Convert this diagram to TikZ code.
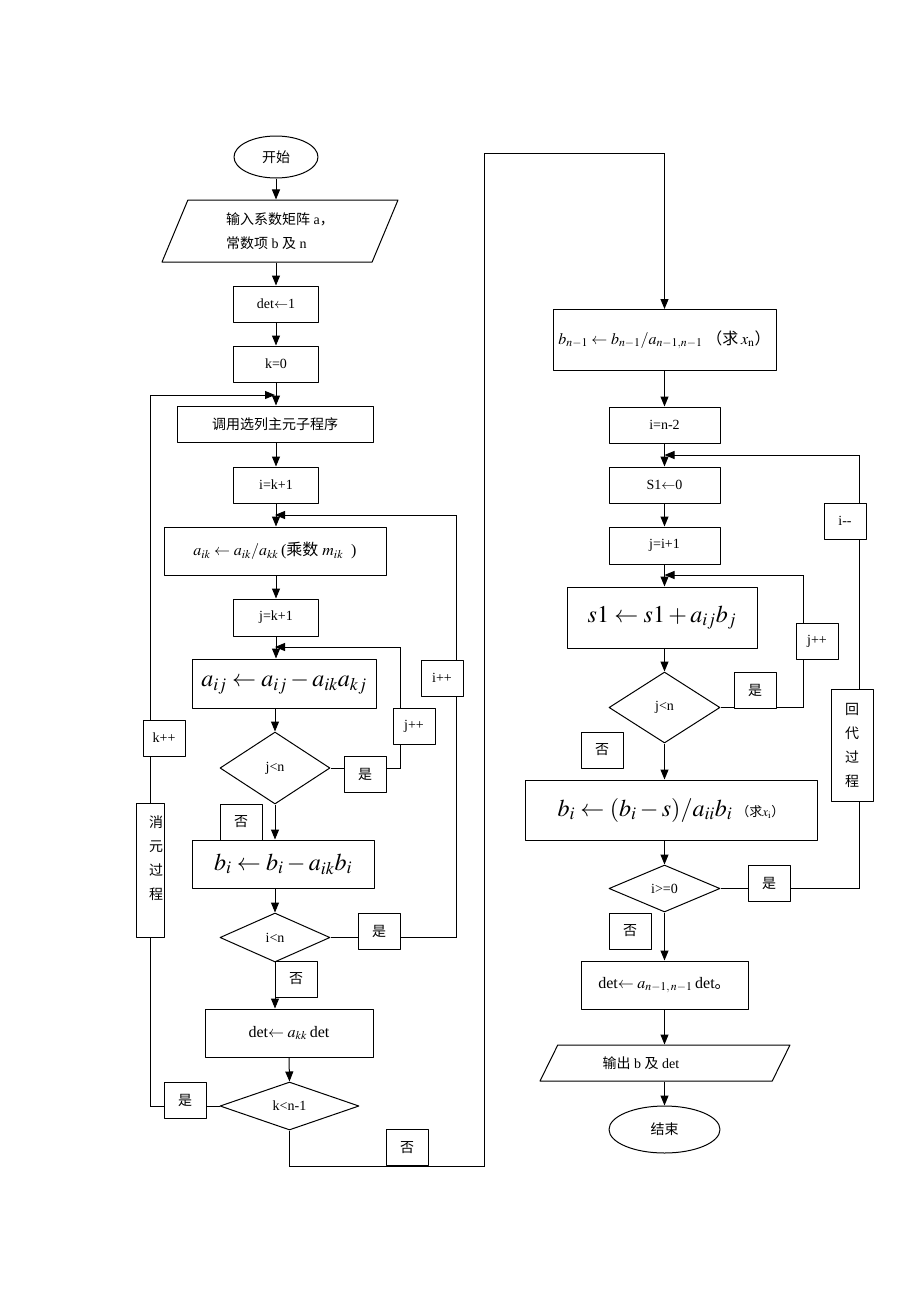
\documentclass[tikz,border=0pt]{standalone}
\usepackage{mathptmx}
\usepackage{fontspec}
\setmainfont{Liberation Serif}
\newfontfamily\cjk{Noto Sans CJK SC}
\usetikzlibrary{shapes.geometric,arrows.meta,backgrounds}
\newcommand\zh[1]{{\cjk #1}}
\newcommand\basefont{\fontsize{14}{18}\selectfont}
\newcommand\eqfont{\fontsize{24}{28}\selectfont}
\newcommand\midfont{\fontsize{16}{19}\selectfont}
\tikzset{
  box/.style={draw, fill=white, rectangle, inner sep=2pt, minimum height=36},
  tag/.style={draw, fill=white, minimum width=42, minimum height=36, inner sep=0pt, font=\basefont\cjk},
  vtag/.style={draw, fill=white, inner sep=0pt, align=center, font=\cjk\fontsize{14}{24}\selectfont},
  cond/.style={draw, fill=white, diamond, aspect=2.5, inner sep=0pt},
  io/.style={draw, fill=white, trapezium, trapezium stretches body, inner sep=0pt},
  term/.style={draw, fill=white, ellipse, inner sep=0pt},
  flow/.style={line width=1pt, -{Triangle[length=10pt,width=8pt]}},
}
\begin{document}
\begin{tikzpicture}[x=1pt, y=-1pt, line width=1pt, font=\basefont, line join=round]
\useasboundingbox (0,0) rectangle (920,1302);
% elimination part
\node[term, minimum width=84, minimum height=42] (start) at (276,157) {\zh{开始}};
\node[io, trapezium left angle=55, trapezium right angle=125, minimum width=236, minimum height=62, align=left, font=\fontsize{14}{24}\selectfont] (input) at (280,231)
  {\zh{输入系数矩阵} a\zh{，}\\ \zh{常数项} b \zh{及} n};
\node[box, minimum width=85] (detone) at (276,304) {det$\leftarrow$1};
\node[box, minimum width=85] (kzero) at (276,364) {k=0};
\node[box, minimum width=196] (pivot) at (275,424) {\zh{调用选列主元子程序}};
\node[box, minimum width=85] (iinit) at (276,485) {i=k+1};
\node[box, minimum width=222, minimum height=48, font=\midfont] (mult) at (275,551)
  {$a_{ik} \leftarrow a_{ik}/a_{kk}$\,(\zh{乘数} $m_{ik}$\ \ )};
\node[box, minimum width=85, minimum height=37] (jinit) at (276,617.5) {j=k+1};
\node[box, minimum width=184, minimum height=49, font=\eqfont] (elim) at (284,683.5) {$a_{ij} \leftarrow a_{ij} - a_{ik}a_{kj}$};
\node[cond, minimum width=110, minimum height=72] (jtest) at (275,768) {j<n};
\node[box, minimum width=182, minimum height=48, font=\eqfont] (bupd) at (283,864) {$b_i \leftarrow b_i - a_{ik}b_i$};
\node[cond, minimum width=110, minimum height=49] (itest) at (275,937.5) {i<n};
\node[box, minimum width=168, minimum height=48, font=\midfont] (detk) at (289,1033) {det$\leftarrow a_{kk}$\,det};
\node[cond, minimum width=139, minimum height=48] (ktest) at (289.5,1106) {k<n-1};
% back substitution part
\node[box, minimum width=223, minimum height=61, font=\midfont] (backn) at (664.5,340)
  {$b_{n-1} \leftarrow b_{n-1}/a_{n-1,n-1}$\ \zh{（求}\,$x_{\mathrm{n}}$\zh{）}};
\node[box, minimum width=111] (iset) at (664.5,425) {i=n-2};
\node[box, minimum width=111] (szero) at (664.5,485) {S1$\leftarrow$0};
\node[box, minimum width=111, minimum height=37] (jset) at (664.5,545.5) {j=i+1};
\node[box, minimum width=190, minimum height=61, font=\eqfont] (sacc) at (662,617.5) {$s1 \leftarrow s1 + a_{ij}b_j$};
\node[cond, minimum width=111, minimum height=71] (jtestb) at (664.5,707.5) {j<n};
\node[box, minimum width=292, minimum height=60, font=\eqfont] (bsolve) at (671,810)
  {$b_i \leftarrow (b_i - s)/a_{ii}b_i$\,{\fontsize{13}{16}\selectfont\zh{（求}$x_{\mathrm{i}}$\zh{）}}};
\node[cond, minimum width=111, minimum height=47] (itestb) at (664.5,888.5) {i>=0};
\node[box, minimum width=167, minimum height=48, font=\midfont] (detfin) at (664.5,985) {det$\leftarrow a_{n-1,\,n-1}$\,det\zh{。}};
\node[io, trapezium left angle=36, trapezium right angle=144, minimum width=250, minimum height=36] (output) at (665,1063)
  {\zh{输出} b \zh{及} det\hspace*{48pt}\mbox{}};
\node[term, minimum width=111, minimum height=47] (stop) at (664.5,1129.5) {\zh{结束}};
% turning points of the loops
\path (275,647) coordinate (jback) (400,647) coordinate (jturn)
      (275,515) coordinate (iback) (456,515) coordinate (iturn)
      (275,395) coordinate (kback) (150,395) coordinate (kturn)
      (484,1166) coordinate (xlow) (484,153) coordinate (xhigh)
      (664.5,575) coordinate (jbackb) (803,575) coordinate (jturnb)
      (664.5,455) coordinate (ibackb) (859,455) coordinate (iturnb);
% labels on the lines
\node[tag] (jyes) at (365,774) {是};
\node[tag, font=\basefont] (jinc) at (414,726) {j++};
\node[tag] (jno) at (241,822) {否};
\node[tag] (iyes) at (379,931.5) {是};
\node[tag, font=\basefont] (iinc) at (442,678) {i++};
\node[tag] (ino) at (296,979) {否};
\node[tag] (kyes) at (185,1100) {是};
\node[tag, font=\basefont] (kinc) at (164,738) {k++};
\node[vtag, minimum width=28, minimum height=134, text width=26, align=right] (elimtag) at (150,870) {消\\元\\过\\程\\\mbox{}};
\node[tag] (kno) at (407,1147.5) {否};
\node[tag] (jyesb) at (755,690) {是};
\node[tag, font=\basefont] (jincb) at (817,641) {j++};
\node[tag] (jnob) at (602,750) {否};
\node[tag] (iyesb) at (769,883) {是};
\node[tag, font=\basefont] (idec) at (845,521) {i{-}{-}};
\node[vtag, minimum width=42, minimum height=112] (backtag) at (852,745) {回\\代\\过\\程};
\node[tag] (inob) at (630,931) {否};
\begin{pgfonlayer}{background}
\draw[flow] (start.south) -- (start.south |- input.north);
\draw[flow] (detone.north |- input.south) -- (detone.north);
\draw[flow] (detone) -- (kzero);
\draw[flow] (kzero.south) -- (kzero.south |- pivot.north);
\draw[flow] (pivot.south -| iinit) -- (iinit.north);
\draw[flow] (iinit.south) -- (iinit.south |- mult.north);
\draw[flow] (jinit.north |- mult.south) -- (jinit.north);
\draw[flow] (jinit.south) -- (jinit.south |- elim.north);
\draw[flow] (jtest.north |- elim.south) -- (jtest.north);
\draw[flow] (jtest.south) -- (jtest.south |- bupd.north);
\draw[flow] (itest.north |- bupd.south) -- (itest.north);
\draw[flow] (itest.south) -- (itest.south |- detk.north);
\draw[flow] (detk.south) -- (ktest.north);
\draw[flow] (jtest.east) -- (jtest.east -| jturn) -- (jturn) -- (jback);
\draw[flow] (itest.east) -- (itest.east -| iturn) -- (iturn) -- (iback);
\draw[flow] (ktest.west) -- (ktest.west -| kturn) -- (kturn) -- (kback);
\draw[flow] (ktest.south) -- (ktest.south |- xlow) -- (xlow) -- (xhigh) -- (xhigh -| backn.north) -- (backn.north);
\draw[flow] (backn) -- (iset);
\draw[flow] (iset) -- (szero);
\draw[flow] (szero) -- (jset);
\draw[flow] (jset.south) -- (jset.south |- sacc.north);
\draw[flow] (jtestb.north |- sacc.south) -- (jtestb.north);
\draw[flow] (jtestb.south) -- (jtestb.south |- bsolve.north);
\draw[flow] (itestb.north |- bsolve.south) -- (itestb.north);
\draw[flow] (itestb) -- (detfin);
\draw[flow] (detfin.south) -- (detfin.south |- output.north);
\draw[flow] (output.south -| stop) -- (stop.north);
\draw[flow] (jtestb.east) -- (jtestb.east -| jturnb) -- (jturnb) -- (jbackb);
\draw[flow] (itestb.east) -- (itestb.east -| iturnb) -- (iturnb) -- (ibackb);
\end{pgfonlayer}
\end{tikzpicture}
\end{document}
